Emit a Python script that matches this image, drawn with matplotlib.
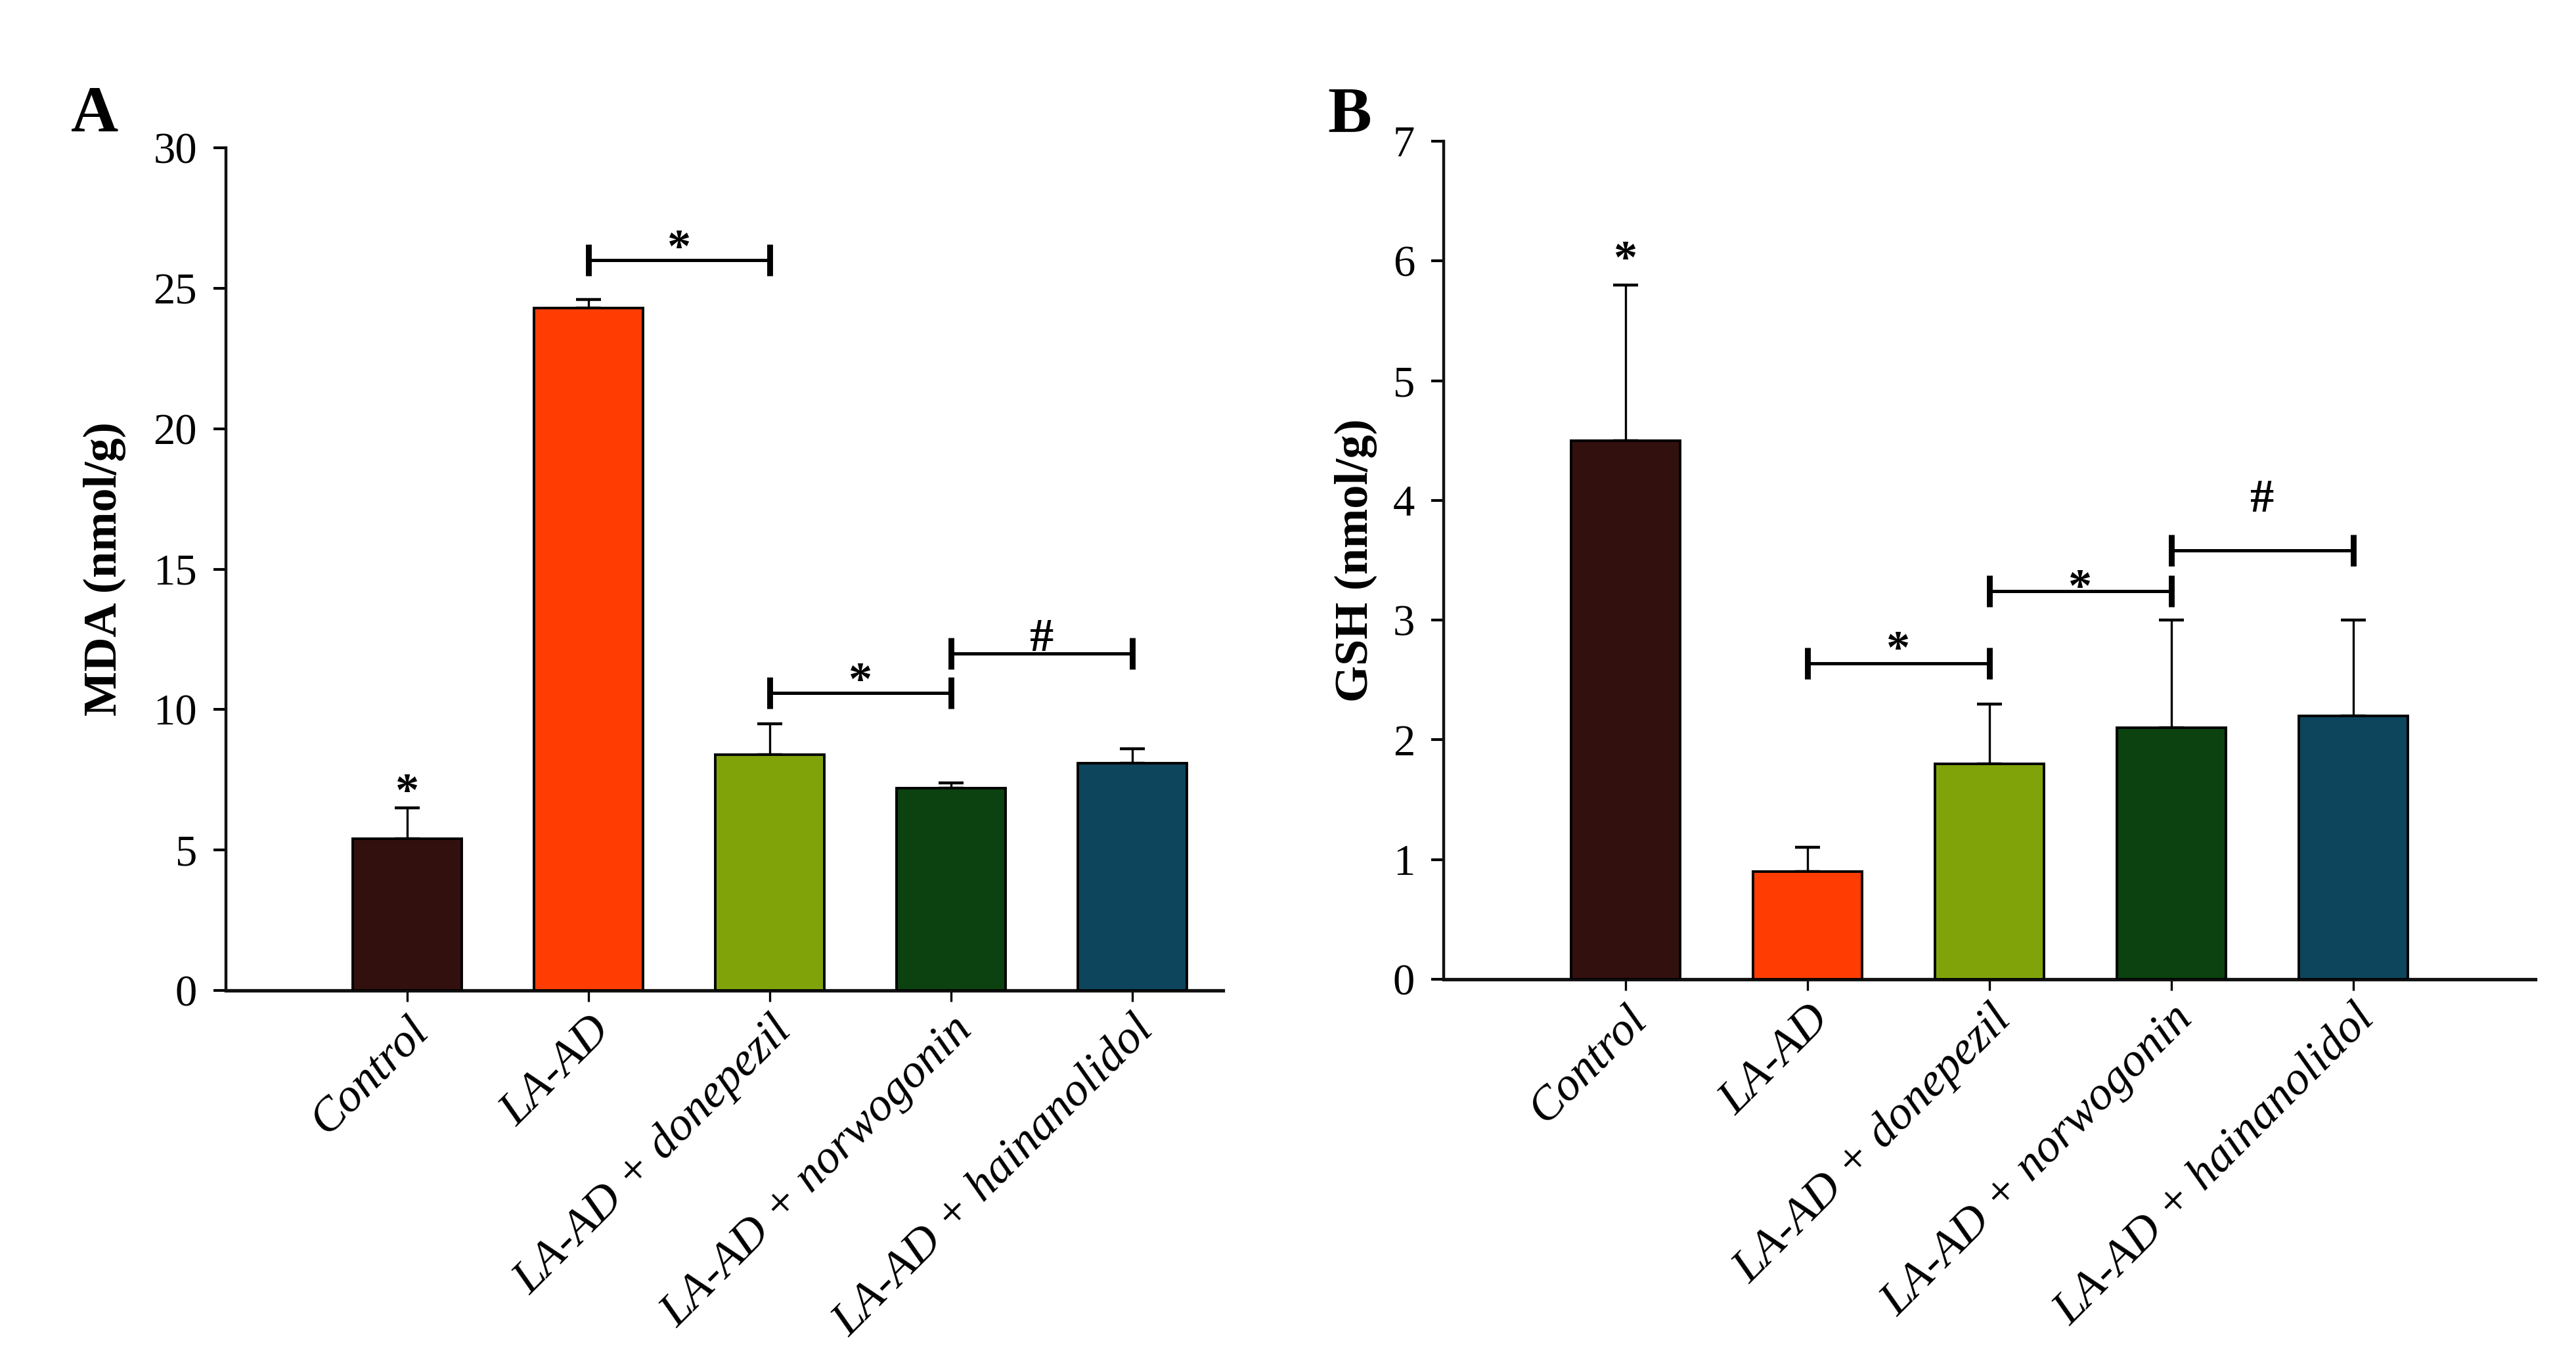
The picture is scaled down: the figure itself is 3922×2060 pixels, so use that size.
import matplotlib
matplotlib.use("Agg")
import matplotlib.pyplot as plt

# ---------------- data ----------------
categories = ["Control", "LA-AD", "LA-AD + donepezil", "LA-AD + norwogonin", "LA-AD + hainanolidol"]
colors = ["#32100E", "#FF3D03", "#80A30A", "#0B4210", "#0D455C"]

mda_mean = [5.4, 24.3, 8.4, 7.2, 8.1]
mda_err = [1.1, 0.3, 1.1, 0.2, 0.5]
gsh_mean = [4.5, 0.9, 1.8, 2.1, 2.2]
gsh_err = [1.3, 0.2, 0.5, 0.9, 0.8]

# significance brackets: (x_start, x_end, bracket_y, label, label_y)
mda_brackets = [(1, 2, 26.0, "*", 26.8), (2, 3, 10.6, "*", 11.4), (3, 4, 12.0, "#", 12.7)]
gsh_brackets = [(1, 2, 2.64, "*", 2.84), (2, 3, 3.24, "*", 3.36), (3, 4, 3.58, "#", 4.05)]
# single markers over bars: (x, y, label)
mda_marks = [(0, 7.44, "*")]
gsh_marks = [(0, 6.1, "*")]

mda_ticks = [0, 5, 10, 15, 20, 25, 30]
gsh_ticks = [0, 1, 2, 3, 4, 5, 6, 7]

plt.rcParams["font.family"] = ["Liberation Serif", "DejaVu Serif"]

W, H = 3922, 2060
DPI = 200
fig = plt.figure(figsize=(W / DPI, H / DPI), dpi=DPI)


def axes_px(left, right, top, bottom):
    return fig.add_axes([left / W, 1 - bottom / H, (right - left) / W, (bottom - top) / H])


def sig_text(ax, x, y, s):
    fs = 26
    off = -0.50 * fs if s == "*" else -0.36 * fs
    ax.annotate(s, xy=(x, y), xytext=(0, off), textcoords="offset points",
                ha="center", va="baseline", fontsize=fs, fontweight="bold")


def panel(ax, means, errs, ticks, ylabel, brackets, marks, xmax, label_x):
    x = list(range(len(categories)))
    ax.bar(x, means, width=0.6, color=colors, edgecolor="black", linewidth=1.4, zorder=3)
    ax.errorbar(x, means, yerr=[[0] * len(errs), errs], fmt="none", ecolor="black",
                elinewidth=1.2, capsize=6.7, capthick=1.6, zorder=2)
    ax.set_xlim(-1, xmax)
    ax.set_ylim(ticks[0], ticks[-1])
    ax.set_yticks(ticks)
    ax.set_xticks(x)
    ax.set_xticklabels(categories, rotation=45, ha="right", va="top",
                       rotation_mode="anchor", fontsize=26, fontstyle="italic")
    ax.tick_params(axis="y", direction="out", length=6.8, width=1.5, pad=9, labelsize=24)
    ax.tick_params(axis="x", direction="out", length=6, width=1.2, pad=4)
    for sp in ["top", "right"]:
        ax.spines[sp].set_visible(False)
    ax.spines["left"].set_linewidth(1.6)
    ax.spines["bottom"].set_linewidth(1.9)
    ax.spines["left"].set_color("#111111")
    ax.spines["bottom"].set_color("#111111")
    ax.set_ylabel(ylabel, fontsize=26, fontweight="bold")
    ax.yaxis.set_label_coords(label_x, 0.5)
    for (x0, x1, yb, s, ys) in brackets:
        ax.plot([x0, x1], [yb, yb], color="black", lw=1.8, solid_capstyle="butt", zorder=4)
        ax.plot([x0, x1], [yb, yb], linestyle="none", marker="|", markersize=17,
                markeredgewidth=3.2, color="black", zorder=4)
        sig_text(ax, (x0 + x1) / 2, ys, s)
    for (xm, ym, s) in marks:
        sig_text(ax, xm, ym, s)


axA = axes_px(344, 1862, 225, 1508)
panel(axA, mda_mean, mda_err, mda_ticks, "MDA (nmol/g)", mda_brackets, mda_marks, 4.5, -0.100)

axB = axes_px(2198, 3860, 215, 1491)
panel(axB, gsh_mean, gsh_err, gsh_ticks, "GSH (nmol/g)", gsh_brackets, gsh_marks, 5.0, -0.061)

fig.text(108 / W, 1 - 200 / H, "A", fontsize=36, fontweight="bold", ha="left", va="baseline")
fig.text(2021 / W, 1 - 200 / H, "B", fontsize=36, fontweight="bold", ha="left", va="baseline")

fig.savefig("out.png", dpi=DPI, facecolor="white")
